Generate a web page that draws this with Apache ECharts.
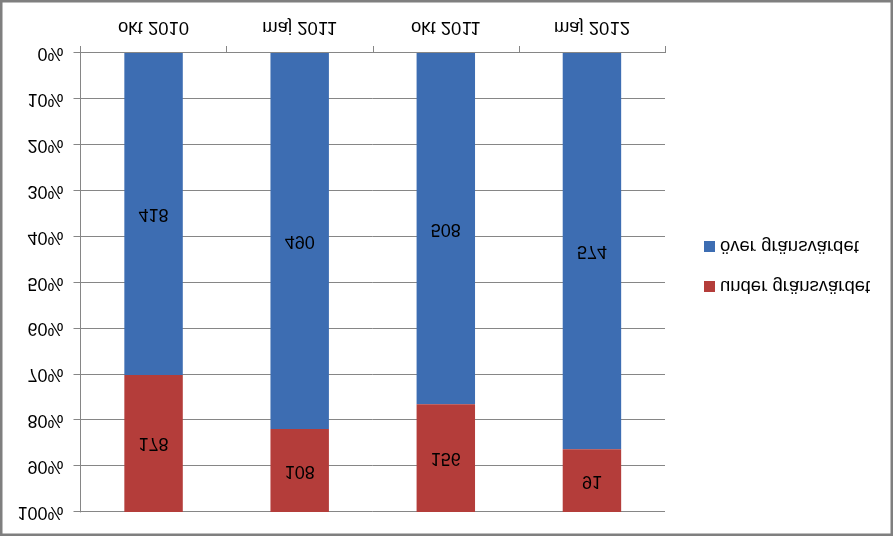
<!DOCTYPE html>
<html><head><meta charset="utf-8">
<script src="https://cdn.jsdelivr.net/npm/echarts@6/dist/echarts.min.js"></script>
<style>
html,body{margin:0;padding:0;background:#fff;}
#c{width:893px;height:536px;transform:scaleY(-1);}
</style></head>
<body><div id="c"></div>
<script>
const categories = ['okt 2010', 'maj 2011', 'okt 2011', 'maj 2012'];
const underValues = [178, 108, 156, 91];
const overValues = [418, 490, 508, 574];
const seriesNames = ['under gränsvärdet', 'över gränsvärdet'];
const yTicks = [0, 10, 20, 30, 40, 50, 60, 70, 80, 90, 100];

const totals = categories.map((_, i) => underValues[i] + overValues[i]);
const underPct = underValues.map((v, i) => v / totals[i] * 100);
const overPct = overValues.map((v, i) => v / totals[i] * 100);

const font = 'Liberation Sans';
const chart = echarts.init(document.getElementById('c'), null, {renderer: 'canvas'});
chart.setOption({
  animation: false,
  backgroundColor: '#fff',
  textStyle: {fontFamily: font},
  graphic: [{
    type: 'rect', shape: {x: 1.25, y: 1.25, width: 890.5, height: 533.5},
    style: {fill: 'none', stroke: '#7f7f7f', lineWidth: 2.5}, z: 100
  }],
  grid: {left: 80.5, right: 228, top: 24, bottom: 53, containLabel: false},
  legend: {
    orient: 'vertical', left: 699, top: 235, itemWidth: 11, itemHeight: 11, itemGap: 21,
    icon: 'rect', data: seriesNames,
    textStyle: {fontSize: 18.5, color: '#000', fontFamily: font}
  },
  xAxis: {
    type: 'category', data: categories,
    axisLine: {lineStyle: {color: '#868686', width: 1}},
    axisTick: {show: true, length: 7, lineStyle: {color: '#868686'}},
    axisLabel: {fontSize: 18.5, color: '#000', margin: 16, fontFamily: font}
  },
  yAxis: {
    type: 'value', min: 0, max: 100, interval: 10,
    axisLine: {show: true, lineStyle: {color: '#868686'}},
    axisTick: {show: true, length: 7, lineStyle: {color: '#868686'}},
    splitLine: {lineStyle: {color: '#868686', width: 1}},
    axisLabel: {fontSize: 18, color: '#000', margin: 17, fontFamily: font,
      formatter: v => yTicks.includes(v) ? v + '%' : ''}
  },
  series: [
    {name: seriesNames[1], type: 'bar', stack: 's', data: overPct, barWidth: '40%',
     itemStyle: {color: '#3D6DB2'},
     label: {show: true, position: 'inside', fontSize: 18, color: '#000', fontFamily: font,
       formatter: p => overValues[p.dataIndex]}},
    {name: seriesNames[0], type: 'bar', stack: 's', data: underPct, barWidth: '40%',
     itemStyle: {color: '#B43D3A'},
     label: {show: true, position: 'inside', fontSize: 18, color: '#000', fontFamily: font,
       formatter: p => underValues[p.dataIndex]}}
  ]
});
</script></body></html>
